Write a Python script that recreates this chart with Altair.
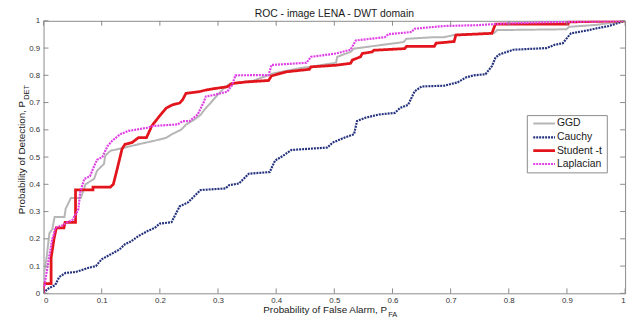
import altair as alt
import pandas as pd

# ---------------- data ----------------
series_names = ["GGD", "Cauchy", "Student -t", "Laplacian"]

ggd_fa = [0, 0, 0.005, 0.01, 0.015, 0.019, 0.036, 0.038, 0.047, 0.064, 0.07, 0.072, 0.087, 0.092,
          0.104, 0.106, 0.115, 0.14, 0.163, 0.191, 0.211, 0.22, 0.237, 0.245, 0.259, 0.27, 0.279,
          0.287, 0.299, 0.31, 0.321, 0.36, 0.395, 0.44, 0.457, 0.503, 0.505, 0.528, 0.534, 0.587,
          0.619, 0.624, 0.672, 0.689, 0.706, 0.775, 0.78, 0.899, 0.904, 0.95, 1.0]
ggd_pd = [0, 0.066, 0.126, 0.22, 0.235, 0.28, 0.28, 0.31, 0.35, 0.35, 0.385, 0.40, 0.42, 0.45,
          0.475, 0.505, 0.523, 0.535, 0.547, 0.56, 0.571, 0.583, 0.601, 0.619, 0.637, 0.655, 0.68,
          0.698, 0.728, 0.752, 0.77, 0.78, 0.807, 0.826, 0.831, 0.846, 0.868, 0.886, 0.898, 0.913,
          0.922, 0.934, 0.94, 0.94, 0.948, 0.955, 0.966, 0.969, 0.978, 0.985, 1.0]

cauchy_fa = [0, 0.005, 0.01, 0.02, 0.027, 0.038, 0.055, 0.065, 0.078, 0.09, 0.1, 0.117, 0.13, 0.14,
             0.15, 0.163, 0.18, 0.191, 0.2, 0.22, 0.234, 0.248, 0.27, 0.313, 0.319, 0.336, 0.353,
             0.389, 0.398, 0.412, 0.426, 0.488, 0.497, 0.517, 0.534, 0.539, 0.553, 0.576, 0.604,
             0.613, 0.627, 0.638, 0.65, 0.689, 0.712, 0.726, 0.74, 0.76, 0.771, 0.777, 0.783, 0.808,
             0.865, 0.879, 0.893, 0.902, 0.907, 0.938, 0.95, 0.972, 1.0]
cauchy_pd = [0, 0.012, 0.02, 0.03, 0.06, 0.075, 0.078, 0.085, 0.094, 0.1, 0.125, 0.145, 0.16, 0.18,
             0.19, 0.21, 0.23, 0.24, 0.256, 0.261, 0.319, 0.333, 0.379, 0.385, 0.397, 0.403, 0.439,
             0.445, 0.487, 0.505, 0.526, 0.535, 0.553, 0.571, 0.584, 0.632, 0.644, 0.656, 0.662,
             0.68, 0.692, 0.741, 0.759, 0.762, 0.774, 0.792, 0.80, 0.804, 0.834, 0.864, 0.876, 0.894,
             0.90, 0.912, 0.918, 0.942, 0.954, 0.966, 0.972, 0.981, 1.0]

student_fa = [0, 0, 0.013, 0.013, 0.018, 0.022, 0.035, 0.037, 0.055, 0.055, 0.085, 0.085, 0.115,
              0.12, 0.126, 0.135, 0.14, 0.152, 0.163, 0.177, 0.186, 0.197, 0.211, 0.222, 0.234,
              0.239, 0.245, 0.268, 0.279, 0.296, 0.316, 0.324, 0.35, 0.387, 0.392, 0.418, 0.457,
              0.46, 0.503, 0.528, 0.531, 0.545, 0.548, 0.565, 0.568, 0.621, 0.624, 0.672, 0.675,
              0.706, 0.709, 0.771, 0.777, 0.902, 0.903, 1.0]
student_pd = [0, 0.036, 0.036, 0.13, 0.2, 0.24, 0.24, 0.26, 0.26, 0.38, 0.38, 0.39, 0.39, 0.40,
              0.451, 0.53, 0.547, 0.553, 0.571, 0.571, 0.614, 0.644, 0.68, 0.692, 0.698, 0.71,
              0.734, 0.74, 0.746, 0.752, 0.758, 0.77, 0.776, 0.781, 0.798, 0.813, 0.822, 0.831,
              0.837, 0.844, 0.856, 0.868, 0.88, 0.886, 0.892, 0.898, 0.906, 0.906, 0.918, 0.924,
              0.948, 0.954, 0.988, 0.988, 0.996, 1.0]

laplace_fa = [0, 0, 0.002, 0.003, 0.01, 0.015, 0.017, 0.02, 0.033, 0.04, 0.05, 0.058, 0.06, 0.063,
              0.07, 0.08, 0.085, 0.092, 0.101, 0.11, 0.118, 0.132, 0.146, 0.18, 0.188, 0.231, 0.239,
              0.251, 0.265, 0.276, 0.279, 0.293, 0.316, 0.324, 0.33, 0.387, 0.392, 0.452, 0.46,
              0.503, 0.528, 0.537, 0.587, 0.593, 0.633, 0.638, 0.689, 0.746, 0.791, 0.87, 1.0]
laplace_pd = [0, 0.03, 0.03, 0.048, 0.138, 0.2, 0.21, 0.24, 0.25, 0.26, 0.27, 0.3, 0.31, 0.37,
              0.42, 0.43, 0.457, 0.49, 0.5, 0.54, 0.56, 0.584, 0.596, 0.608, 0.614, 0.62, 0.632,
              0.632, 0.656, 0.704, 0.722, 0.728, 0.74, 0.764, 0.8, 0.801, 0.838, 0.846, 0.868,
              0.88, 0.894, 0.928, 0.94, 0.951, 0.959, 0.971, 0.981, 0.984, 0.99, 0.995, 1.0]

tick_values = [0, 0.1, 0.2, 0.3, 0.4, 0.5, 0.6, 0.7, 0.8, 0.9, 1.0]

# ---------------- styling ----------------
colors = ["#b6b6b6", "#24327d", "#e3151c", "#e03fe6"]
widths = [2.0, 2.2, 2.8, 2.2]
dashes = [[1, 0], [2, 1], [1, 0], [2, 1]]
FONT = "Liberation Sans"
W, H = 589, 276

xs = alt.Scale(domain=[0, 1], nice=False, zero=False)
ys = alt.Scale(domain=[0, 1], nice=False, zero=False)
xax = alt.Axis(values=tick_values, format="~g", title=None, orient="bottom",
               ticks=False, domain=False, grid=False, labelPadding=3)
yax = alt.Axis(values=tick_values, format="~g", title=None, orient="left",
               ticks=False, domain=False, grid=False, labelPadding=4)

data_pairs = [(ggd_fa, ggd_pd), (cauchy_fa, cauchy_pd), (student_fa, student_pd), (laplace_fa, laplace_pd)]

layers = []

# curves
for name, (fa, pdv), c, w, d in zip(series_names, data_pairs, colors, widths, dashes):
    df = pd.DataFrame({"fa": fa, "pd": pdv, "i": list(range(len(fa)))})
    layers.append(alt.Chart(df).mark_line(color=c, strokeWidth=w, strokeDash=d, clip=True,
                                          strokeCap="butt", strokeJoin="miter").encode(
        x=alt.X("fa:Q", scale=xs, axis=xax),
        y=alt.Y("pd:Q", scale=ys, axis=yax),
        order="i:Q"))

# inner ticks (MATLAB style) on all four sides
tdf = pd.DataFrame({"t": tick_values})
tick_style = dict(color="#8a8a8a", strokeWidth=1)
layers.append(alt.Chart(tdf).mark_rule(**tick_style).encode(
    x=alt.X("t:Q", scale=xs, axis=xax), y=alt.value(H), y2=alt.value(H - 5)))
layers.append(alt.Chart(tdf).mark_rule(**tick_style).encode(
    x=alt.X("t:Q", scale=xs, axis=xax), y=alt.value(0), y2=alt.value(5)))
layers.append(alt.Chart(tdf).mark_rule(**tick_style).encode(
    y=alt.Y("t:Q", scale=ys, axis=yax), x=alt.value(0), x2=alt.value(5)))
layers.append(alt.Chart(tdf).mark_rule(**tick_style).encode(
    y=alt.Y("t:Q", scale=ys, axis=yax), x=alt.value(W), x2=alt.value(W - 5)))


# titles
def txt(s, x, y, size, angle=0, align="center", baseline="middle"):
    return alt.Chart(pd.DataFrame({"s": [s]})).mark_text(
        font=FONT, fontSize=size, color="#1a1a1a", angle=angle, align=align, baseline=baseline
    ).encode(text="s:N", x=alt.value(x), y=alt.value(y))


layers.append(txt("ROC -  image LENA - DWT domain", W / 2, -4, 10.5, baseline="alphabetic"))
layers.append(txt("Probability of False Alarm, P", 348, 293, 10, align="right"))
layers.append(txt("FA", 349, 298, 7.5, align="left"))
layers.append(txt("Probability of Detection, P", -22, 81, 10, angle=270, align="right"))
layers.append(txt("DET", -17, 80, 7.5, angle=270, align="left"))

# legend box
LX0, LX1, LY0, LY1 = 490, 571, 96, 154
layers.append(alt.Chart(pd.DataFrame({"a": [0]})).mark_rect(
    fill="white", stroke="#8a8a8a", strokeWidth=1).encode(
    x=alt.value(LX0), x2=alt.value(LX1), y=alt.value(LY0), y2=alt.value(LY1)))
rows = [104, 118, 131.5, 145]
for name, c, w, d, ry in zip(series_names, colors, widths, dashes, rows):
    layers.append(alt.Chart(pd.DataFrame({"a": [0]})).mark_rule(
        color=c, strokeWidth=w, strokeDash=d, strokeCap="butt").encode(
        x=alt.value(496), x2=alt.value(518), y=alt.value(ry)))
    layers.append(txt(name, 520, ry, 10.5, align="left"))

chart = alt.layer(*layers).properties(
    width=W, height=H,
    autosize=alt.AutoSizeParams(type="none"),
    padding={"left": 36, "top": 11, "right": 7, "bottom": 23},
).configure_view(stroke="#8a8a8a", strokeWidth=1).configure_axis(
    labelFont=FONT, labelFontSize=8, labelColor="#333333", tickSize=0,
)

chart.save("out.html", embed_options={"renderer": "svg", "actions": False})
